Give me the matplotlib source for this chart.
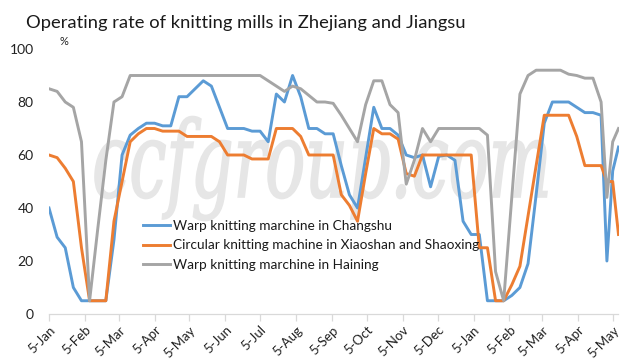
import numpy as np
import pandas as pd
import matplotlib
import matplotlib.pyplot as plt
import matplotlib.dates as mdates
from matplotlib.ticker import FuncFormatter
from matplotlib.textpath import TextPath
from matplotlib.patches import PathPatch
from matplotlib.font_manager import FontProperties
from matplotlib.transforms import Affine2D

matplotlib.use("Agg")

# weekly readings, plus three closer-spaced ones at the end
dates = list(pd.date_range("2016-01-05", periods=69, freq="7D")) + list(
    pd.to_datetime(["2017-04-30", "2017-05-05", "2017-05-10"])
)

changshu = [40, 29, 25, 10, 5, 5, 5, 5, 28, 60,
            67.5, 70, 72, 72, 71, 71, 82, 82, 85, 88,
            86, 78, 70, 70, 70, 69, 69, 65, 83, 80,
            90, 82, 70, 70, 68, 68, 56, 45, 40, 59,
            78, 70, 70, 67.5, 60, 59, 60, 48, 59.5, 60,
            58, 35, 30, 30, 5, 5, 5, 7, 10, 19,
            45, 72, 80, 80, 80, 78, 76, 76, 75,
            20, 54, 63]

xiaoshan = [60, 59, 55, 50, 25, 5, 5, 5, 35, 50,
            65, 68, 70, 70, 69, 69, 69, 67, 67, 67,
            67, 65, 60, 60, 60, 58.5, 58.5, 58.5, 70, 70,
            70, 67, 60, 60, 60, 60, 45, 41, 35, 53,
            70, 68, 68, 66, 53, 52, 60, 60, 60, 60,
            60, 60, 60, 25, 25, 5, 5, 11, 18, 37,
            56, 75, 75, 75, 75, 67, 56, 56, 56,
            50, 50, 30]

haining = [85, 84, 80, 78, 65, 5, 32, 58, 80, 82,
           90, 90, 90, 90, 90, 90, 90, 90, 90, 90,
           90, 90, 90, 90, 90, 90, 90, 88, 86, 84,
           86, 85, 82.5, 80, 80, 79.5, 75, 70, 65, 79,
           88, 88, 79, 76, 49, 58, 70, 65, 70, 70,
           70, 70, 70, 70, 67.5, 16, 5, 44, 83, 90,
           92, 92, 92, 92, 90.5, 90, 89, 89, 80,
           44, 65, 70]

series_names = [
    "Warp knitting marchine in Changshu",
    "Circular knitting machine in Xiaoshan and Shaoxing",
    "Warp knitting marchine in Haining",
]
series_colors = ["#5B9BD5", "#ED7D31", "#A5A5A5"]
yticks = [0, 20, 40, 60, 80, 100]

plt.rcParams["font.family"] = ["Lato", "DejaVu Sans"]

W, H = 643, 364
fig = plt.figure(figsize=(W / 100, H / 100), dpi=100)
ax = fig.add_axes([49 / W, 1 - 314 / H, (618.5 - 49) / W, (314 - 49) / H])
ax.patch.set_alpha(0)

# faint watermark behind the lines
wm_prop = FontProperties(family="DejaVu Serif", style="italic")
wm_path = TextPath((0, 0), "ccfgroup.com", size=100, prop=wm_prop)
xh = TextPath((0, 0), "o", size=100, prop=wm_prop).get_extents().height
ext = wm_path.get_extents()
sx = (547 - 95) / ext.width
sy = 58 / xh
tr = Affine2D().translate(-ext.x0, 0).scale(sx, sy).translate(95, H - 197)
wm = PathPatch(wm_path, transform=tr, facecolor="#e6e6e6", edgecolor="#e6e6e6", lw=1.2, zorder=0)
fig.add_artist(wm)

for vals, name, col in zip([changshu, xiaoshan, haining], series_names, series_colors):
    ax.plot(dates, vals, color=col, lw=2.1, label=name, solid_joinstyle="round", zorder=3)

ax.set_xlim(pd.Timestamp("2016-01-05"), pd.Timestamp("2017-05-10"))
ax.set_ylim(0, 100)
ax.set_yticks(yticks)

ax.xaxis.set_major_locator(mdates.MonthLocator(bymonthday=5))
ax.xaxis.set_major_formatter(FuncFormatter(lambda v, p: f"{mdates.num2date(v).day}-{mdates.num2date(v):%b}"))

for s in ["top", "right", "left"]:
    ax.spines[s].set_visible(False)
ax.spines["bottom"].set_color("#d9d9d9")
ax.spines["bottom"].set_linewidth(0.9)

ax.tick_params(axis="y", length=0, pad=11, labelsize=10, labelcolor="#222222")
ax.tick_params(axis="x", length=5, width=0.9, color="#d9d9d9", pad=2,
               labelsize=9.5, labelcolor="#222222", labelrotation=45)
plt.setp(ax.get_xticklabels(), ha="right", rotation_mode="anchor")

fig.text(26 / W, 1 - 28 / H, "Operating rate of knitting mills in Zhejiang and Jiangsu",
         fontsize=13.2, color="#1a1a1a", va="baseline", ha="left")
fig.text(60 / W, 1 - 45 / H, "%", fontsize=8, color="#222222", va="baseline", ha="left")

ax.legend(loc="upper left", bbox_to_anchor=(143 / W, 1 - 220 / H), bbox_transform=fig.transFigure,
          frameon=False, fontsize=9.8, borderpad=0, borderaxespad=0, handlelength=2.0,
          handletextpad=0.2, labelspacing=0.55, labelcolor="#1a1a1a")

fig.savefig("out.png", dpi=100)
